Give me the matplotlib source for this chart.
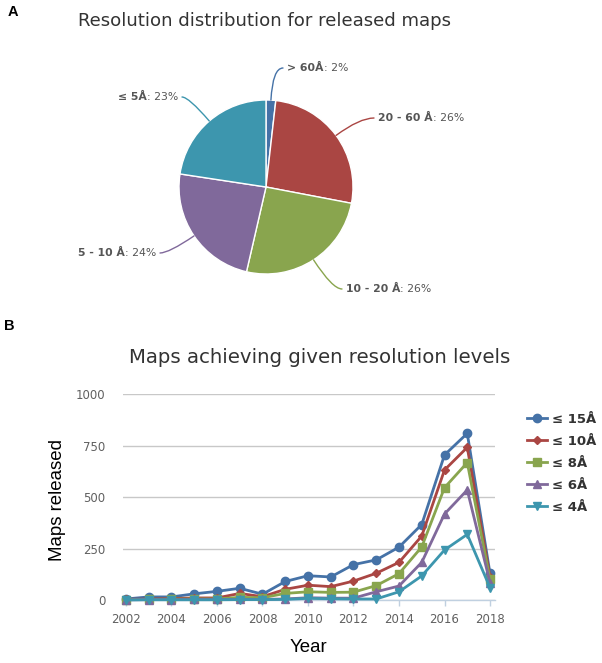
import numpy as np
import matplotlib
matplotlib.use("Agg")
import matplotlib.pyplot as plt
from matplotlib.lines import Line2D

# ---------------- data ----------------
pie_labels = ["> 60Å", "20 - 60 Å", "10 - 20 Å", "5 - 10 Å", "≤ 5Å"]
pie_values = [1.8, 26.2, 25.6, 23.8, 22.6]
pie_colors = ["#4572A7", "#AA4643", "#89A54E", "#80699B", "#3D96AE"]

years = list(range(2002, 2019))
le15 = [5, 15, 15, 30, 42, 57, 28, 90, 118, 112, 172, 195, 257, 367, 705, 810, 130]
le10 = [3, 5, 7, 10, 10, 32, 16, 52, 72, 65, 92, 130, 183, 311, 632, 742, 112]
le8 = [2, 3, 4, 5, 5, 13, 11, 32, 40, 37, 38, 70, 128, 258, 546, 668, 100]
le6 = [1, 2, 2, 3, 3, 3, 3, 5, 11, 9, 9, 40, 68, 183, 418, 535, 85]
le4 = [0, 1, 1, 1, 1, 2, 2, 3, 8, 6, 5, 5, 40, 117, 243, 319, 60]
series_names = ["≤ 15Å", "≤ 10Å", "≤ 8Å", "≤ 6Å", "≤ 4Å"]
series_values = [le15, le10, le8, le6, le4]
series_markers = ["o", "D", "s", "^", "v"]
series_msize = [6.0, 4.2, 5.6, 6.0, 6.0]
yticks = [0, 250, 500, 750, 1000]
xticks = list(range(2002, 2019, 2))

W, H = 602, 663
fig = plt.figure(figsize=(W / 100, H / 100), dpi=100)

def fx(x):
    return x / W

def fy(y):
    return 1 - y / H

TITLE_FONT = "DejaVu Sans"
# ---------------- panel labels & titles ----------------
fig.text(fx(8), fy(16), "A", fontsize=10.5, fontweight="bold", family="Liberation Sans",
         va="baseline", ha="left", color="#000000")
fig.text(fx(4), fy(330), "B", fontsize=10.5, fontweight="bold", family="Liberation Sans",
         va="baseline", ha="left", color="#000000")
fig.text(fx(265), fy(26), "Resolution distribution for released maps", fontsize=13.1,
         family=TITLE_FONT, color="#333333", ha="center", va="baseline")
fig.text(fx(320), fy(363), "Maps achieving given resolution levels", fontsize=14.2,
         family=TITLE_FONT, color="#333333", ha="center", va="baseline")

# ---------------- pie ----------------
cx, cy, r = 266, 187, 87
axp = fig.add_axes([fx(cx - r), fy(cy + r), 2 * r / W, 2 * r / H])
axp.pie(pie_values, colors=pie_colors, startangle=90, counterclock=False, radius=1,
        wedgeprops=dict(edgecolor="white", linewidth=1))
axp.set_xlim(-1, 1)
axp.set_ylim(-1, 1)
axp.axis("off")

# label anchor points in pixels: (x, y, side)
label_pos = [(283, 68, "right"), (374, 118, "right"), (342, 289, "right"),
             (160, 253, "left"), (182, 97, "left")]
total = sum(pie_values)
cum = 0
for lab, val, col, (lx, ly, side) in zip(pie_labels, pie_values, pie_colors, label_pos):
    mid = (cum + val / 2) / total * 360.0
    cum += val
    th = np.deg2rad(90 - mid)
    rim = (np.cos(th), np.sin(th))
    tx, ty = (lx - cx) / r, (cy - ly) / r
    axp.annotate("", xy=rim, xytext=(tx, ty), xycoords="data", textcoords="data",
                 arrowprops=dict(arrowstyle="-", color=col, lw=1,
                                 shrinkA=0, shrinkB=0,
                                 connectionstyle=f"angle3,angleA=0,angleB={90 - mid:.1f}"),
                 annotation_clip=False)
    pct = f": {round(val / total * 100):d}%"
    if side == "right":
        t1 = axp.text(tx + 4 / r, ty, lab, fontsize=7.8, fontweight="bold", color="#555555",
                      ha="left", va="center", family="DejaVu Sans")
        axp.annotate(pct, xy=(1, 0), xycoords=t1, ha="left", va="bottom",
                     fontsize=7.8, color="#555555", family="DejaVu Sans")
    else:
        t2 = axp.text(tx - 4 / r, ty, pct, fontsize=7.8, color="#555555",
                      ha="right", va="center", family="DejaVu Sans")
        axp.annotate(lab, xy=(0, 0), xycoords=t2, ha="right", va="bottom",
                     fontsize=7.8, fontweight="bold", color="#555555", family="DejaVu Sans")

# ---------------- line chart ----------------
L, R, T, B = 122.7, 495, 394.3, 600
ax = fig.add_axes([fx(L), fy(B), (R - L) / W, (B - T) / H])
for name, vals, col, mk, ms in zip(series_names, series_values, pie_colors,
                                   series_markers, series_msize):
    ax.plot(years, vals, color=col, lw=2, marker=mk, ms=ms, mec=col, mfc=col,
            label=name, clip_on=False, zorder=3)
ax.set_ylim(0, 1000)
ax.set_xlim(2002 - 3.3 / 22.75, 2018 + 5 / 22.75)
ax.set_yticks(yticks)
ax.set_xticks(xticks)
ax.grid(axis="y", color="#C8C8C8", lw=1)
ax.set_axisbelow(True)
for s in ["top", "right", "left"]:
    ax.spines[s].set_visible(False)
ax.spines["bottom"].set_color("#C0D0E0")
ax.spines["bottom"].set_linewidth(1)
ax.spines["bottom"].set_zorder(2.5)
ax.tick_params(axis="y", length=0, pad=12.5, labelsize=8.5, labelcolor="#606060")
ax.tick_params(axis="x", length=4.5, width=1, color="#C0D0E0", pad=5,
               labelsize=8.5, labelcolor="#606060")
for t in ax.get_xticklabels() + ax.get_yticklabels():
    t.set_family("DejaVu Sans")

fig.text(fx(58), fy(500), "Maps released", rotation=90, fontsize=13.4,
         family="Liberation Sans", ha="center", va="center", color="#000000")
fig.text(fx(308), fy(648), "Year", fontsize=13.4, family="Liberation Sans",
         ha="center", va="center", color="#000000")

handles = [Line2D([0], [0], color=c, lw=2, marker=m, ms=s, mec=c, mfc=c)
           for c, m, s in zip(pie_colors, series_markers, series_msize)]
leg = fig.legend(handles, series_names, loc="upper left",
                 bbox_to_anchor=(fx(527), fy(413)), bbox_transform=fig.transFigure,
                 frameon=False, borderpad=0, borderaxespad=0, handlelength=1.5,
                 handletextpad=0.4, labelspacing=0.68,
                 prop=dict(family="DejaVu Sans", weight="bold", size=9.5))
for t in leg.get_texts():
    t.set_color("#333333")

fig.savefig("out.png", dpi=100)
